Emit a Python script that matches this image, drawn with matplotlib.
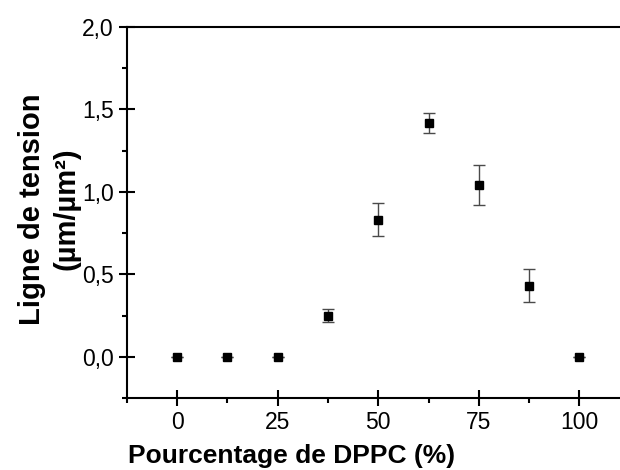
import matplotlib

matplotlib.use("Agg")
import matplotlib.pyplot as plt
from matplotlib.ticker import FixedLocator, FuncFormatter

plt.rcParams["font.family"] = ["Liberation Sans", "DejaVu Sans"]

# DPPC fraction (%) and line tension with its error
dppc = [0, 12.5, 25, 37.5, 50, 62.5, 75, 87.5, 100]
tension = [0.0, 0.0, 0.0, 0.25, 0.83, 1.42, 1.04, 0.43, 0.0]
tension_err = [0.0, 0.0, 0.0, 0.04, 0.10, 0.06, 0.12, 0.10, 0.0]

x_major = [0, 25, 50, 75, 100]
x_minor = [-12.5, 12.5, 37.5, 62.5, 87.5, 112.5]
y_major = [0.0, 0.5, 1.0, 1.5, 2.0]
y_minor = [-0.25, 0.25, 0.75, 1.25, 1.75]

fig = plt.figure(figsize=(6.2, 4.7), dpi=100)
ax = fig.add_axes([0.2048, 0.1532, 0.8106, 0.7894])

ax.errorbar(dppc, tension, yerr=tension_err, fmt="none", ecolor="#4a4a4a",
            elinewidth=1.0, capsize=4.5, capthick=1.0)
ax.plot(dppc, tension, "s", color="black", markersize=5.6, zorder=3)

ax.set_xlim(-12.5, 112.5)
ax.set_ylim(-0.25, 2.0)

ax.xaxis.set_major_locator(FixedLocator(x_major))
ax.xaxis.set_minor_locator(FixedLocator(x_minor))
ax.yaxis.set_major_locator(FixedLocator(y_major))
ax.yaxis.set_minor_locator(FixedLocator(y_minor))
ax.yaxis.set_major_formatter(FuncFormatter(lambda v, p: f"{v:.1f}".replace(".", ",")))
ax.xaxis.set_major_formatter(FuncFormatter(lambda v, p: f"{v:g}"))

for sp in ax.spines.values():
    sp.set_linewidth(1.5)

ax.tick_params(which="major", direction="inout", length=11, width=1.5, labelsize=16.5, pad=4)
ax.tick_params(which="minor", direction="out", length=3.8, width=1.5)
ax.tick_params(top=False, right=False, which="both")

ax.set_xlabel("Pourcentage de DPPC (%)", fontsize=19, fontweight="bold")
ax.xaxis.set_label_coords(0.328, -0.124)
ax.set_ylabel("Ligne de tension\n(µm/µm²)", fontsize=21, fontweight="bold", linespacing=1.3)
ax.yaxis.set_label_coords(-0.093, 0.51)

fig.savefig("out.png", dpi=100)
